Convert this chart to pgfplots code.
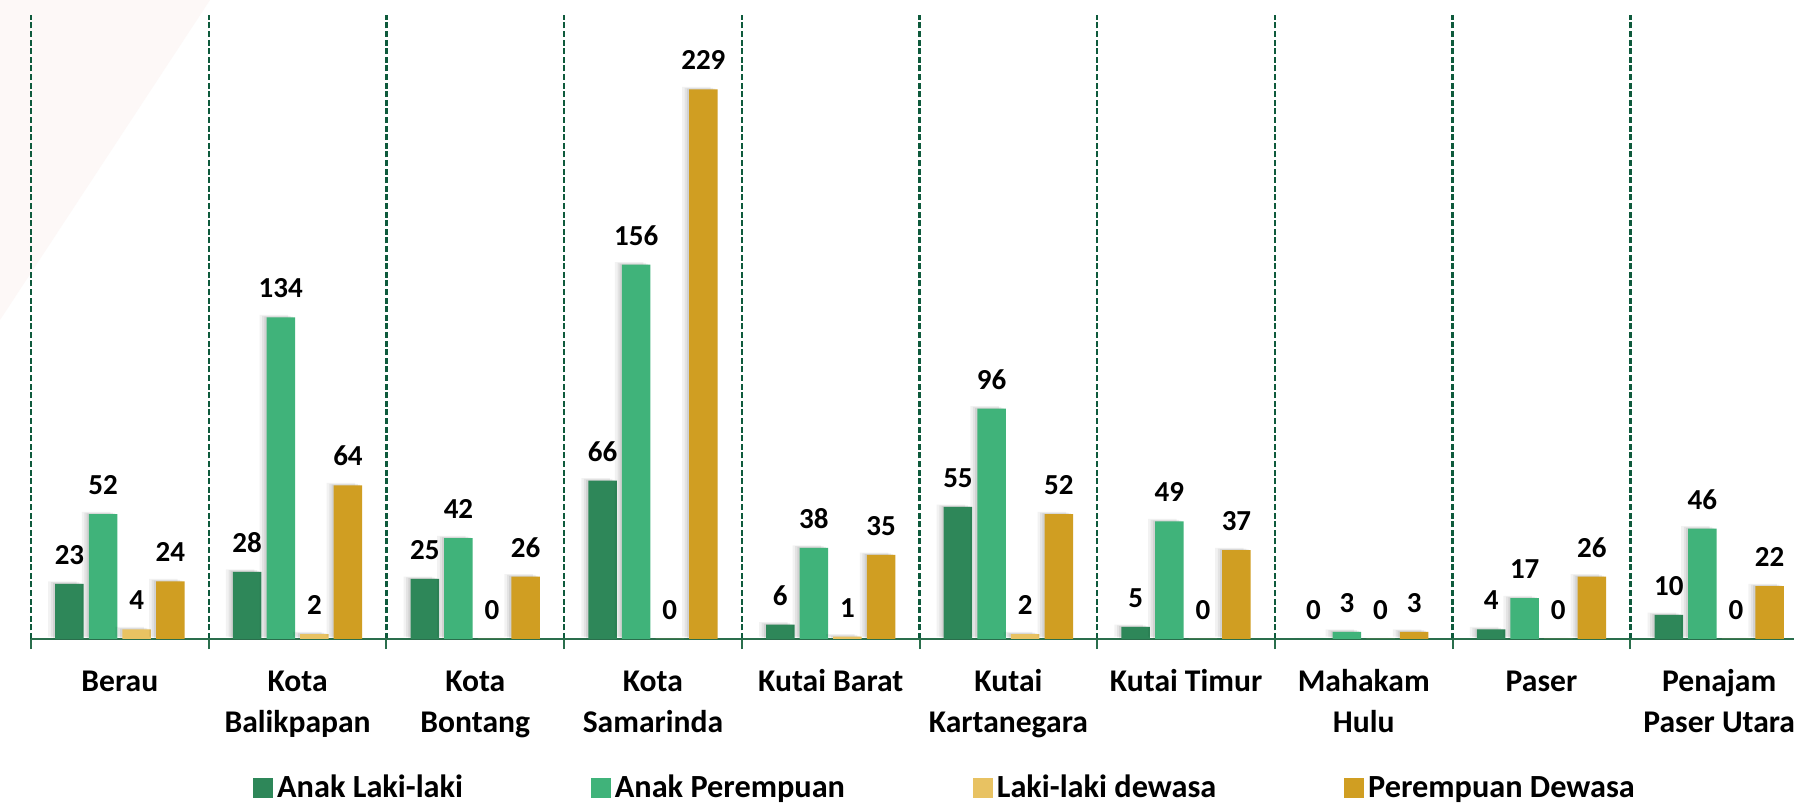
\documentclass[border=0pt]{standalone}
\usepackage{pgfplots}
\pgfplotsset{compat=1.18}
\usepackage{fontspec}
\setmainfont{Carlito}
\definecolor{cA}{HTML}{2E8759}
\definecolor{cB}{HTML}{40B37A}
\definecolor{cC}{HTML}{E8C262}
\definecolor{cD}{HTML}{D09E22}
\definecolor{gridc}{HTML}{0E5A3C}
\definecolor{axc}{HTML}{2A6E4C}
\definecolor{pinkbg}{HTML}{FDF8F7}
\tikzset{
  barshadow/.style={
    preaction={fill=black, fill opacity=0.05, transform canvas={xshift=-3.5pt, yshift=1.2pt}},
    preaction={fill=black, fill opacity=0.06, transform canvas={xshift=-2.2pt, yshift=0.8pt}},
    preaction={fill=black, fill opacity=0.07, transform canvas={xshift=-1.1pt, yshift=0.4pt}}
  }
}
\begin{document}
\begin{tikzpicture}
\path[use as bounding box, fill=white] (0,0) rectangle (897pt,401.5pt);
\fill[pinkbg] (0pt,401.5pt) -- (105pt,401.5pt) -- (0pt,241.5pt) -- cycle;
\begin{axis}[
  at={(15.5pt,82pt)}, anchor=south west,
  scale only axis, width=881.5pt, height=312pt,
  xmin=-0.5, xmax=9.421, ymin=0, ymax=260,
  axis y line=none, axis x line*=bottom,
  x axis line style={axc, line width=1.2pt, -},
  ybar, bar width=14.25pt,
  xtick={-0.5,0.5,1.5,2.5,3.5,4.5,5.5,6.5,7.5,8.5}, xticklabels={},
  xmajorgrids,
  major grid style={gridc, line width=1.2pt, dash pattern=on 3pt off 1.3pt},
  tick align=outside, major tick length=5pt,
  xtick style={axc, line width=1pt, solid},
  extra x ticks={0,1,2,3,4,5,6,7,8,9},
  extra x tick labels={\strut Berau,\strut Kota\\Balikpapan,\strut Kota\\Bontang,\strut Kota\\Samarinda,\strut Kutai Barat,\strut Kutai\\Kartanegara,\strut Kutai Timur,\strut Mahakam\\Hulu,\strut Paser,\strut Penajam\\Paser Utara},
  extra x tick style={major tick length=0pt, grid=none},
  xticklabel style={align=center, anchor=north, yshift=-11.65pt, inner sep=0pt,
    font=\fontsize{15.8}{20.5}\selectfont\bfseries, text=black},
  clip=true,
  /pgf/number format/assume math mode=true,
  nodes near coords,
  every node near coord/.append style={font=\fontsize{14.5}{14.5}\selectfont\bfseries,
    text=black, text depth=0pt, inner sep=0pt, yshift=9.5pt},
  legend style={at={(0.1259,-0.2426)}, anchor=west, draw=none, fill=none,
    inner sep=0pt, font=\fontsize{16.15}{19}\selectfont\bfseries,
    nodes={inner sep=0pt, text height=11pt, text depth=3.5pt},
    /tikz/every odd column/.append style={column sep=2pt},
    /tikz/every even column/.append style={column sep=64pt}},
  legend columns=4, legend cell align=left,
]
\addplot[fill=cA, draw=none, barshadow, bar shift=-25.2pt, forget plot]
  coordinates {(0,23) (1,28) (2,25) (3,66) (4,6) (5,55) (6,5) (7,0) (8,4) (9,10)};
\addplot[fill=cB, draw=none, barshadow, bar shift=-8.4pt, forget plot]
  coordinates {(0,52) (1,134) (2,42) (3,156) (4,38) (5,96) (6,49) (7,3) (8,17) (9,46)};
\addplot[fill=cC, draw=none, barshadow, bar shift=8.4pt, forget plot]
  coordinates {(0,4) (1,2) (2,0) (3,0) (4,1) (5,2) (6,0) (7,0) (8,0) (9,0)};
\addplot[fill=cD, draw=none, barshadow, bar shift=25.2pt, forget plot]
  coordinates {(0,24) (1,64) (2,26) (3,229) (4,35) (5,52) (6,37) (7,3) (8,26) (9,22)};
\addlegendimage{legend image code/.code={\fill[cA] (0pt,-3.75pt) rectangle (9.5pt,5.75pt);}}
\addlegendimage{legend image code/.code={\fill[cB] (0pt,-3.75pt) rectangle (9.5pt,5.75pt);}}
\addlegendimage{legend image code/.code={\fill[cC] (0pt,-3.75pt) rectangle (9.5pt,5.75pt);}}
\addlegendimage{legend image code/.code={\fill[cD] (0pt,-3.75pt) rectangle (9.5pt,5.75pt);}}
\legend{Anak Laki-laki, Anak Perempuan, Laki-laki dewasa, Perempuan Dewasa}
\end{axis}
\end{tikzpicture}
\end{document}
